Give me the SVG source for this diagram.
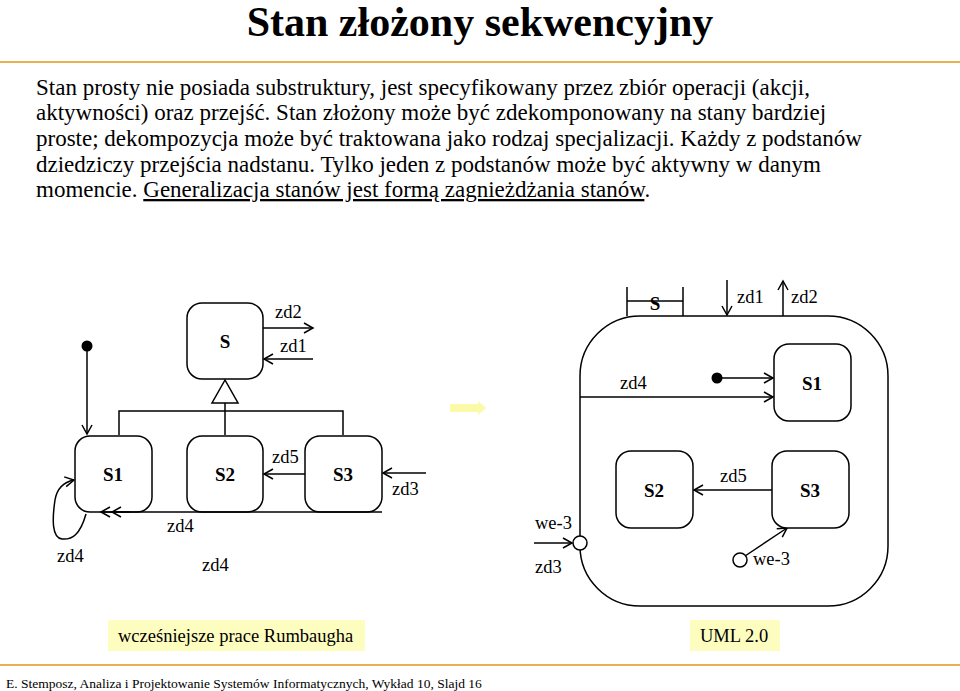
<svg xmlns="http://www.w3.org/2000/svg" width="960" height="691" viewBox="0 0 960 691">
<style>
text{font-family:"Liberation Serif","Times New Roman",serif;fill:#000}
.b{font-size:23px}
.l{font-size:18.5px}
.n{font-size:19px;font-weight:bold}
.st{fill:#fff;stroke:#000;stroke-width:1.5}
.ln{fill:none;stroke:#000;stroke-width:1.5}
</style>
<defs>
<marker id="a" markerWidth="12" markerHeight="12" refX="10" refY="6" orient="auto" markerUnits="userSpaceOnUse">
<path d="M1,1 L10,6 L1,11" fill="none" stroke="#000" stroke-width="1.5"/>
</marker>
</defs>
<rect width="960" height="691" fill="#fff"/>
<text x="480" y="36" text-anchor="middle" style="font-size:42px;font-weight:bold">Stan złożony sekwencyjny</text>
<line x1="0" y1="62" x2="960" y2="62" stroke="#e8b050" stroke-width="2"/>
<g>
<text x="36" y="95" class="b">Stan prosty nie posiada substruktury, jest specyfikowany przez zbiór operacji (akcji,</text>
<text x="36" y="120" class="b">aktywności) oraz przejść. Stan złożony może być zdekomponowany na stany bardziej</text>
<text x="36" y="146" class="b">proste; dekompozycja może być traktowana jako rodzaj specjalizacji. Każdy z podstanów</text>
<text x="36" y="172" class="b">dziedziczy przejścia nadstanu. Tylko jeden z podstanów może być aktywny w danym</text>
<text x="36" y="197" class="b">momencie. <tspan text-decoration="underline">Generalizacja stanów jest formą zagnieżdżania stanów</tspan>.</text>
</g>
<g id="S"><rect class="st" x="187" y="303" width="76" height="76" rx="15"/><text class="n" x="225" y="348" text-anchor="middle">S</text></g>
<g id="S1"><rect class="st" x="75" y="436" width="77" height="76" rx="15"/><text class="n" x="113" y="481" text-anchor="middle">S1</text></g>
<g id="S2"><rect class="st" x="187" y="436" width="76" height="76" rx="15"/><text class="n" x="225" y="481" text-anchor="middle">S2</text></g>
<g id="S3"><rect class="st" x="305" y="436" width="77" height="76" rx="15"/><text class="n" x="343" y="481" text-anchor="middle">S3</text></g>
<g id="connectors-left">
<line class="ln" x1="263" y1="328" x2="313" y2="328" marker-end="url(#a)"/>
<line class="ln" x1="313" y1="359" x2="264" y2="359" marker-end="url(#a)"/>
<path class="ln" d="M119,435 V411 H343 V435 M225,435 V403"/>
<polygon points="225,380 212,403 238,403" class="st"/>
<line class="ln" x1="87" y1="346" x2="87" y2="434" marker-end="url(#a)"/>
<line class="ln" x1="305" y1="474" x2="264" y2="474" marker-end="url(#a)"/>
<line class="ln" x1="426" y1="473" x2="383" y2="473" marker-end="url(#a)"/>
<line class="ln" x1="382" y1="512" x2="101" y2="512" marker-end="url(#a)"/>
<line class="ln" x1="130" y1="512" x2="112" y2="512" marker-end="url(#a)"/>
<path class="ln" d="M86,514 C80,535 72,540 62,539 C52,538 52,520 55,500 C57,488 64,482 74,480" marker-end="url(#a)"/>
</g>
<circle cx="87" cy="346" r="5.5" fill="#000"/>
<g>
<text class="l" x="275" y="318">zd2</text>
<text class="l" x="280" y="352">zd1</text>
<text class="l" x="272" y="463">zd5</text>
<text class="l" x="392" y="495">zd3</text>
<text class="l" x="167" y="532">zd4</text>
<text class="l" x="202" y="571">zd4</text>
<text class="l" x="57" y="562">zd4</text>
</g>
<path d="M450,404 H478 V401 L486,408 L478,415 V412 H450 Z" fill="#fafaa8"/>
<g id="Sbig"><rect class="st" x="580" y="316" width="308" height="290" rx="60"/></g>
<g id="connectors-right">
<path class="ln" d="M627,287 V316 M683,287 V316 M627,301 H683"/>
<line class="ln" x1="727" y1="280" x2="727" y2="315" marker-end="url(#a)"/>
<line class="ln" x1="783" y1="316" x2="783" y2="281" marker-end="url(#a)"/>
<line class="ln" x1="717" y1="378" x2="773" y2="378" marker-end="url(#a)"/>
<line class="ln" x1="580" y1="397" x2="773" y2="397" marker-end="url(#a)"/>
<line class="ln" x1="772" y1="490" x2="694" y2="490" marker-end="url(#a)"/>
<line class="ln" x1="534" y1="543" x2="572" y2="543" marker-end="url(#a)"/>
<line class="ln" x1="745" y1="556" x2="787" y2="528" marker-end="url(#a)"/>
</g>
<g id="S1r"><rect class="st" x="774" y="344" width="77" height="77" rx="15"/><text class="n" x="812" y="390" text-anchor="middle">S1</text></g>
<g id="S2r"><rect class="st" x="616" y="451" width="77" height="77" rx="15"/><text class="n" x="654" y="497" text-anchor="middle">S2</text></g>
<g id="S3r"><rect class="st" x="772" y="451" width="77" height="77" rx="15"/><text class="n" x="810" y="497" text-anchor="middle">S3</text></g>
<circle cx="717" cy="378" r="5.5" fill="#000"/>
<circle class="st" cx="580" cy="543" r="7"/>
<circle class="st" cx="740" cy="560" r="7"/>
<text class="n" x="655" y="310" text-anchor="middle">S</text>
<g>
<text class="l" x="737" y="303">zd1</text>
<text class="l" x="791" y="303">zd2</text>
<text class="l" x="620" y="389">zd4</text>
<text class="l" x="720" y="482">zd5</text>
<text class="l" x="535" y="529">we-3</text>
<text class="l" x="535" y="573">zd3</text>
<text class="l" x="753" y="565">we-3</text>
</g>
<rect x="108" y="620" width="257" height="31" fill="#fdfdc0"/>
<text class="l" x="118" y="642">wcześniejsze prace Rumbaugha</text>
<rect x="690" y="620" width="90" height="31" fill="#fdfdc0"/>
<text class="l" x="700" y="642">UML 2.0</text>
<line x1="0" y1="665" x2="960" y2="665" stroke="#e8b050" stroke-width="2"/>
<text x="6" y="688" style="font-size:13.5px">E. Stemposz, Analiza i Projektowanie Systemów Informatycznych, Wykład 10, Slajd 16</text>
</svg>
